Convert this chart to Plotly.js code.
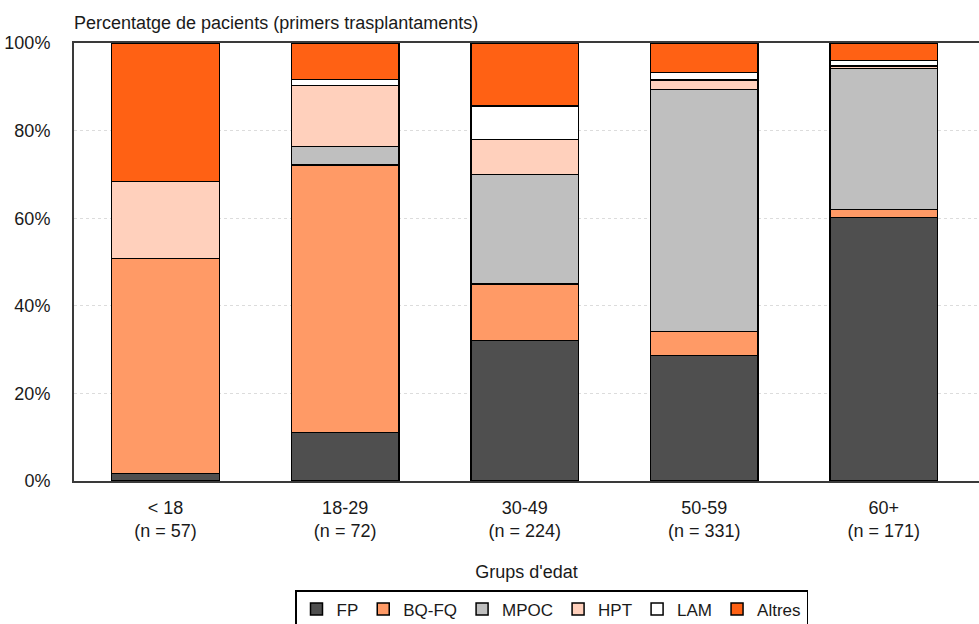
<!DOCTYPE html>
<html>
<head>
<meta charset="utf-8">
<script src="https://cdn.plot.ly/plotly-3.0.1.min.js"></script>
<style>html,body{margin:0;padding:0;background:#fff;}#chart{width:979px;height:624px;}</style>
</head>
<body>
<div id="chart"></div>
<script>
const ageGroups = ["< 18", "18-29", "30-49", "50-59", "60+"];
const nPatients = [57, 72, 224, 331, 171];
const seriesNames = ["FP", "BQ-FQ", "MPOC", "HPT", "LAM", "Altres"];
const fp     = [1.75, 11.1, 32.1, 28.7, 60.2];
const bqfq   = [49.1, 61.1, 12.9, 5.4, 1.8];
const mpoc   = [0, 4.2, 25.0, 55.3, 32.2];
const hpt    = [17.5, 13.9, 8.0, 2.1, 0.6];
const lam    = [0, 1.4, 7.6, 1.8, 1.2];
const altres = [31.6, 8.3, 14.3, 6.6, 4.0];
const yTickValues = [0, 20, 40, 60, 80, 100];
const yTickLabels = ["0%", "20%", "40%", "60%", "80%", "100%"];
const seriesColors = ["#4f4f4f", "#ff9a66", "#bfbfbf", "#ffd0bc", "#ffffff", "#ff6114"];

const FONT = '"Liberation Sans", Arial, sans-serif';
const FS = 18;
const values = [fp, bqfq, mpoc, hpt, lam, altres];
const tickText = ageGroups.map((g, i) => g + "<br>(n = " + nPatients[i] + ")");

const traces = seriesNames.map((name, k) => ({
  type: "bar",
  name: name,
  x: ageGroups,
  y: values[k],
  marker: { color: seriesColors[k], line: { color: "#000", width: 1.5 } },
  hoverinfo: "name+y"
}));

const layout = {
  width: 979, height: 624,
  margin: { l: 74, r: 0, t: 43, b: 143, autoexpand: false },
  paper_bgcolor: "#fff", plot_bgcolor: "#fff",
  barmode: "stack",
  bargap: 0.4,
  font: { family: FONT, size: FS, color: "#1a1a1a" },
  title: {
    text: "Percentatge de pacients (primers trasplantaments)",
    x: 74 / 979, xref: "container", xanchor: "left",
    y: 1 - 23 / 624, yref: "container", yanchor: "middle",
    font: { family: FONT, size: FS, color: "#1a1a1a" }
  },
  xaxis: {
    type: "category",
    range: [-0.51, 4.53],
    automargin: false,
    tickmode: "array", tickvals: ageGroups, ticktext: tickText,
    ticks: "outside", ticklen: 9, tickcolor: "rgba(0,0,0,0)",
    showline: true, linecolor: "#3a3a3a", linewidth: 2, mirror: true,
    showgrid: false,
    title: { text: "Grups d'edat", standoff: 25, font: { family: FONT, size: FS } },
    tickfont: { family: FONT, size: FS }
  },
  yaxis: {
    range: [0, 100],
    automargin: false,
    tickmode: "array", tickvals: yTickValues, ticktext: yTickLabels,
    ticks: "outside", ticklen: 18, tickcolor: "rgba(0,0,0,0)",
    showline: true, linecolor: "#3a3a3a", linewidth: 2,
    showgrid: true, gridcolor: "#dcdcdc", griddash: "dot", gridwidth: 1,
    zeroline: false,
    tickfont: { family: FONT, size: FS }
  },
  showlegend: true,
  legend: {
    orientation: "h",
    x: 551.5 / 979, xanchor: "center", xref: "container",
    y: 1 - 590 / 624, yanchor: "top", yref: "container",
    bordercolor: "#000", borderwidth: 1.5,
    font: { family: FONT, size: 17 },
    traceorder: "normal",
    itemwidth: 30,
    tracegroupgap: 0
  }
};

Plotly.newPlot("chart", traces, layout, { displayModeBar: false, staticPlot: true });
</script>
</body>
</html>
